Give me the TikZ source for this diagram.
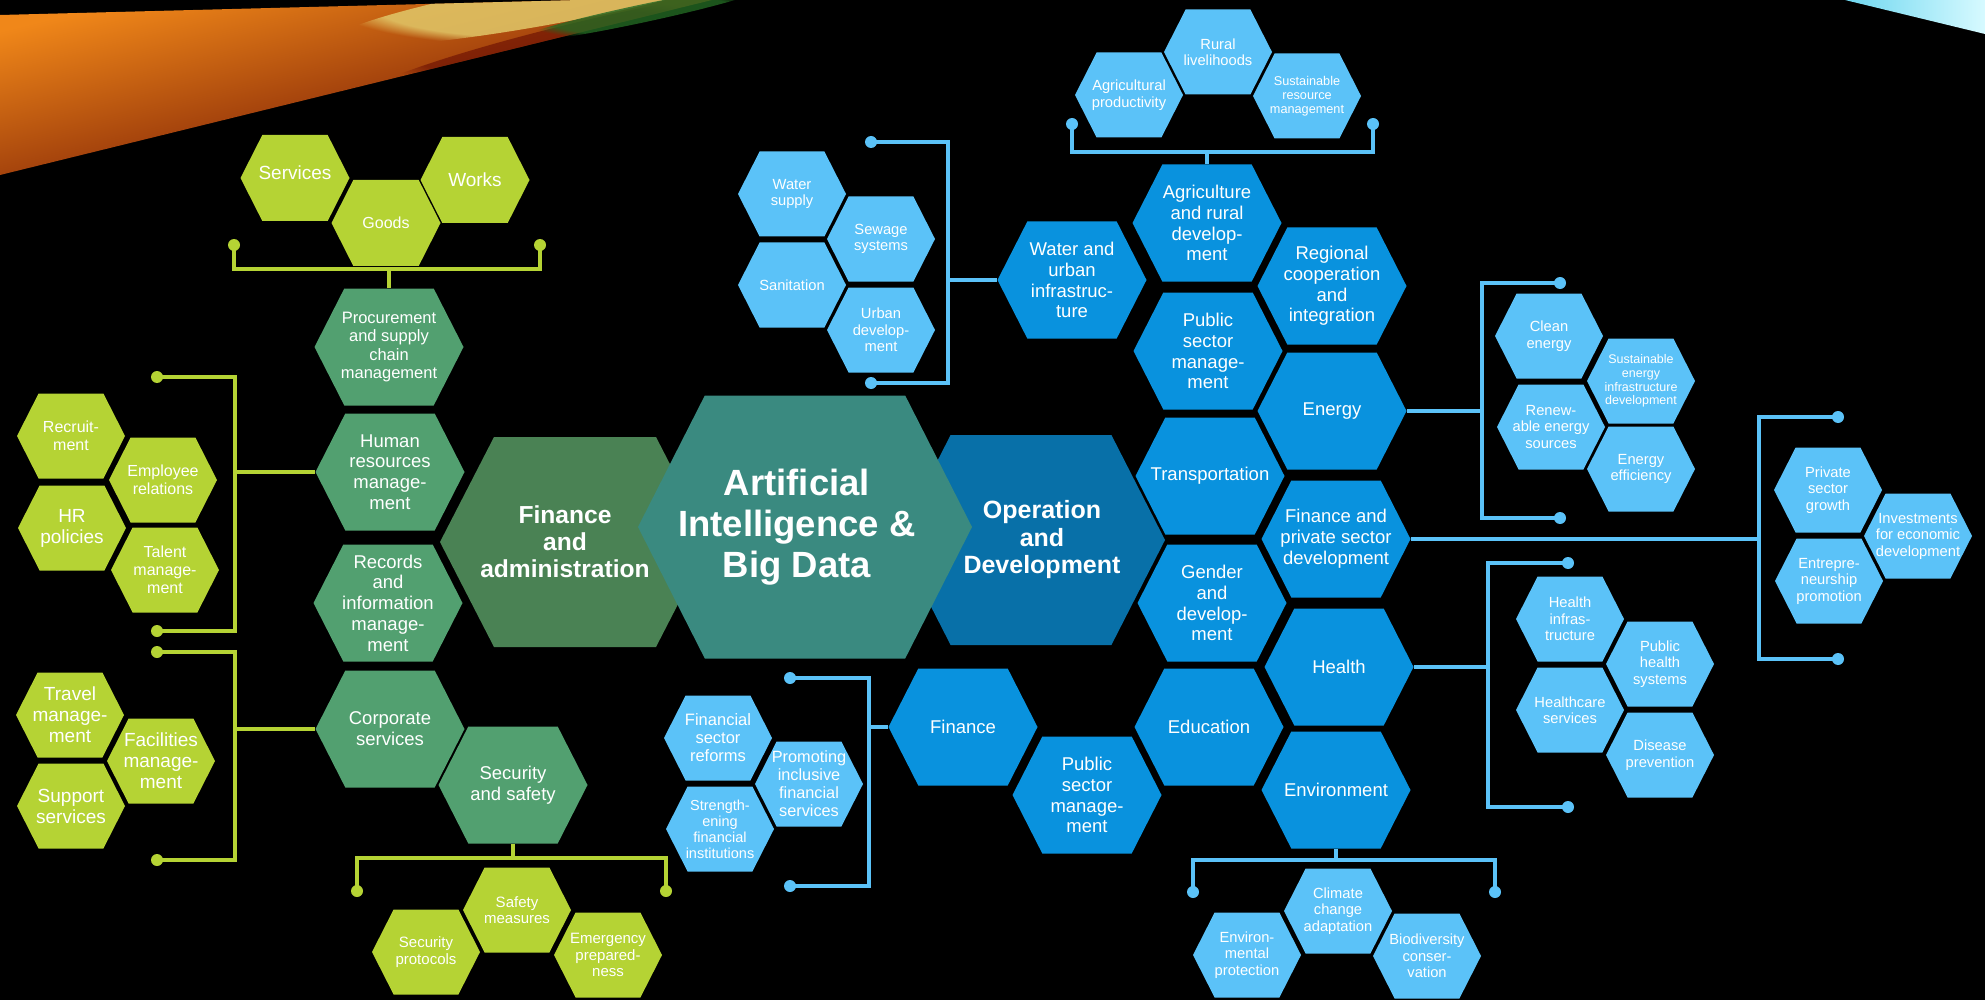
\documentclass[tikz,border=0pt]{standalone}
\usepackage{fontspec}
\setmainfont{Liberation Sans}
\usetikzlibrary{calc,fadings}

\definecolor{lgreen}{RGB}{181,211,52}
\definecolor{mgreen}{RGB}{82,160,112}
\definecolor{dgreen}{RGB}{74,130,84}
\definecolor{tealc}{RGB}{58,138,128}
\definecolor{dblue}{RGB}{8,112,168}
\definecolor{mblue}{RGB}{9,146,222}
\definecolor{lblue}{RGB}{91,194,248}
\definecolor{stOr}{RGB}{240,135,25}
\definecolor{stRed}{RGB}{205,65,10}
\definecolor{stDark}{RGB}{90,0,0}
\definecolor{stYel}{RGB}{225,200,105}
\definecolor{stGrn}{RGB}{35,105,35}
\definecolor{cyA}{RGB}{110,215,240}
\definecolor{cyB}{RGB}{215,250,255}

\newcommand\hexcol{black}
\tikzset{
  hx/.style={rectangle, inner sep=0pt, align=center, text=white,
    path picture={\fill[\hexcol]
      (path picture bounding box.west)
      -- ($(path picture bounding box.north west)!0.2!(path picture bounding box.north east)$)
      -- ($(path picture bounding box.north west)!0.8!(path picture bounding box.north east)$)
      -- (path picture bounding box.east)
      -- ($(path picture bounding box.south west)!0.8!(path picture bounding box.south east)$)
      -- ($(path picture bounding box.south west)!0.2!(path picture bounding box.south east)$)
      -- cycle;}},
  hc/.code={\def\hexcol{#1}},
  lbl/.style={text=white, align=center, inner sep=0pt},
  big/.style={hx, minimum width=149pt, minimum height=117pt, font=\fontsize{18.5}{20.8}\selectfont},
  sm/.style={hx, minimum width=108pt, minimum height=85pt, font=\fontsize{14.7}{16.5}\selectfont},
  gl/.style={draw=lgreen, line width=3.5pt},
  bl/.style={draw=lblue, line width=3.5pt},
  gdot/.style={circle, fill=lgreen, inner sep=0pt, minimum size=12pt},
  bdot/.style={circle, fill=lblue, inner sep=0pt, minimum size=12pt},
}

\begin{document}
\begin{tikzpicture}[x=1pt,y=-1pt]
\useasboundingbox (0,0) rectangle (1985,1000);
\fill[black] (0,0) rectangle (1985,1000);

% background streaks
\begin{scope}
  \clip (0,15) -- (580,0) -- (712,0) -- (0,175) -- cycle;
  \shade[top color=stOr, middle color=stRed, bottom color=stDark, shading angle=14]
    (0,0) -- (712,0) -- (0,175) -- cycle;
  \fill[stYel, path fading=circle with fuzzy edge 20 percent, fill opacity=0.85,
        rotate around={10:(540,4)}] (540,4) ellipse [x radius=210pt, y radius=22pt];
  \fill[stDark, path fading=circle with fuzzy edge 20 percent, fill opacity=0.5,
        rotate around={14:(560,45)}] (560,45) ellipse [x radius=200pt, y radius=18pt];
\end{scope}
\fill[stGrn, path fading=circle with fuzzy edge 20 percent, fill opacity=0.8,
      rotate around={12:(640,14)}] (640,14) ellipse [x radius=130pt, y radius=9pt];
\fill[black, opacity=0.6] (0,0) -- (300,0) -- (0,14) -- cycle;
\shade[left color=cyA, right color=cyB] (1845,0) -- (1985,0) -- (1985,34) -- cycle;

% ---------- green side ----------
\node[sm, hc=lgreen, minimum width=109pt, minimum height=86pt, font=\fontsize{19}{21}\selectfont] (services) at (295,178) {Services\\[-11pt]};
\node[sm, hc=lgreen, minimum width=109pt, minimum height=86pt, font=\fontsize{16}{18}\selectfont] (goods) at (386,223) {Goods};
\node[sm, hc=lgreen, minimum width=109pt, minimum height=86pt, font=\fontsize{19}{21}\selectfont] (works) at (475,180) {Works};

\node[big, hc=mgreen, font=\fontsize{16.5}{18.5}\selectfont] (proc) at (389,347) {Procurement\\and supply\\chain\\management};
\node[big, hc=mgreen] (hr) at (390,472) {Human\\resources\\manage-\\ment};
\node[big, hc=mgreen] (rec) at (388,603) {Records\\and\\information\\manage-\\ment};
\node[big, hc=mgreen] (corp) at (390,729) {Corporate\\services};
\node[big, hc=mgreen] (sec) at (513,785) {Security\\and safety};

\node[sm, hc=lgreen, font=\fontsize{16}{18}\selectfont] (recruit) at (71,436) {Recruit-\\ment};
\node[sm, hc=lgreen, font=\fontsize{16}{18}\selectfont] (employee) at (163,480) {Employee\\relations};
\node[sm, hc=lgreen, font=\fontsize{19}{21}\selectfont] (hrpol) at (72,528) {HR\\policies};
\node[sm, hc=lgreen, font=\fontsize{16}{18}\selectfont] (talent) at (165,570) {Talent\\manage-\\ment};
\node[sm, hc=lgreen, font=\fontsize{19}{21}\selectfont] (travel) at (70,715) {Travel\\manage-\\ment};
\node[sm, hc=lgreen, font=\fontsize{19}{21}\selectfont] (facil) at (161,761) {Facilities\\manage-\\ment};
\node[sm, hc=lgreen, font=\fontsize{19}{21}\selectfont] (support) at (71,806) {Support\\services};

\node[sm, hc=lgreen, font=\fontsize{15}{16.5}\selectfont] (secprot) at (426,952) {Security\\protocols};
\node[sm, hc=lgreen, font=\fontsize{15}{16.5}\selectfont] (safety) at (517,910) {Safety\\measures};
\node[sm, hc=lgreen, font=\fontsize{15}{16.5}\selectfont] (emerg) at (608,955) {Emergency\\prepared-\\ness};

% ---------- centre ----------
\node[hx, hc=dgreen, minimum width=270pt, minimum height=210pt,
      label={[lbl, font=\bfseries\fontsize{24.6}{27}\selectfont, xshift=-10pt]center:{Finance\\and\\administration}}] (finadm) at (575,542) {};
\node[hx, hc=dblue, minimum width=268pt, minimum height=210pt,
      label={[lbl, font=\bfseries\fontsize{25}{27.5}\selectfont, xshift=11pt]center:{Operation\\and\\Development}}] (opdev) at (1031,540) {};
\node[hx, hc=tealc, minimum width=334pt, minimum height=263pt,
      label={[lbl, font=\bfseries\fontsize{36.5}{41}\selectfont, xshift=-8pt]center:{Artificial\\Intelligence \&\\Big Data}}] (ai) at (805,527) {};

% ---------- blue side ----------
\node[big, hc=mblue] (water) at (1072,280) {Water and\\urban\\infrastruc-\\ture};
\node[big, hc=mblue] (agri) at (1207,223) {Agriculture\\and rural\\develop-\\ment};
\node[big, hc=mblue] (psmA) at (1208,351) {Public\\sector\\manage-\\ment};
\node[big, hc=mblue] (transp) at (1210,476) {Transportation};
\node[big, hc=mblue] (gender) at (1212,603) {Gender\\and\\develop-\\ment};
\node[big, hc=mblue] (educ) at (1209,727) {Education};
\node[big, hc=mblue] (region) at (1332,286) {Regional\\cooperation\\and\\integration};
\node[big, hc=mblue] (energy) at (1332,411) {Energy};
\node[big, hc=mblue] (finpriv) at (1336,539) {Finance and\\private sector\\development};
\node[big, hc=mblue] (health) at (1339,667) {Health};
\node[big, hc=mblue] (environ) at (1336,790) {Environment};
\node[big, hc=mblue] (finance) at (963,727) {Finance};
\node[big, hc=mblue] (psmB) at (1087,795) {Public\\sector\\manage-\\ment};

\node[sm, hc=lblue] (watsup) at (792,194) {Water\\supply};
\node[sm, hc=lblue] (sewage) at (881,239) {Sewage\\systems};
\node[sm, hc=lblue] (sanit) at (792,285) {Sanitation};
\node[sm, hc=lblue] (urban) at (881,330) {Urban\\develop-\\ment};

\node[sm, hc=lblue] (agriprod) at (1129,95) {Agricultural\\productivity};
\node[sm, hc=lblue] (rural) at (1218,52) {Rural\\livelihoods};
\node[sm, hc=lblue, font=\fontsize{12.7}{13.8}\selectfont] (sustres) at (1307,96) {Sustainable\\resource\\management};

\node[sm, hc=lblue] (clean) at (1549,336) {Clean\\energy};
\node[sm, hc=lblue, font=\fontsize{12.5}{13.7}\selectfont] (susten) at (1641,381) {Sustainable\\energy\\infrastructure\\development};
\node[sm, hc=lblue] (renew) at (1551,427) {Renew-\\able energy\\sources};
\node[sm, hc=lblue] (effic) at (1641,469) {Energy\\efficiency};

\node[sm, hc=lblue] (privgr) at (1828,490) {Private\\sector\\growth};
\node[sm, hc=lblue] (invest) at (1918,536) {Investments\\for economic\\development};
\node[sm, hc=lblue] (entre) at (1829,581) {Entrepre-\\neurship\\promotion};

\node[sm, hc=lblue] (hinfra) at (1570,619) {Health\\infras-\\tructure};
\node[sm, hc=lblue] (phealth) at (1660,664) {Public\\health\\systems};
\node[sm, hc=lblue] (hcare) at (1570,710) {Healthcare\\services};
\node[sm, hc=lblue] (disease) at (1660,755) {Disease\\prevention};

\node[sm, hc=lblue] (climate) at (1338,911) {Climate\\change\\adaptation};
\node[sm, hc=lblue] (envprot) at (1247,955) {Environ-\\mental\\protection};
\node[sm, hc=lblue] (biodiv) at (1427,956) {Biodiversity\\conser-\\vation};

\node[sm, hc=lblue, font=\fontsize{16.5}{18}\selectfont] (finref) at (718,738) {Financial\\sector\\reforms};
\node[sm, hc=lblue, font=\fontsize{16.3}{18}\selectfont] (promo) at (809,784) {Promoting\\inclusive\\financial\\services};
\node[sm, hc=lblue, font=\fontsize{14.5}{16}\selectfont] (strength) at (720,829) {Strength-\\ening\\financial\\institutions};

% ---------- green brackets ----------
\node[gdot] (gd1) at (234,245) {};
\node[gdot] (gd2) at (540,245) {};
\coordinate (gb1) at (389,269);
\draw[gl] (gd1.center) |- (gb1) -| (gd2.center);
\draw[gl] (proc.north) -- (gb1);

\node[gdot] (gd3) at (157,377) {};
\node[gdot] (gd4) at (157,631) {};
\coordinate (gv1) at (235,472);
\draw[gl] (gd3.center) -| (gv1) |- (gd4.center);
\draw[gl] (hr.west) -- (gv1);

\node[gdot] (gd5) at (157,652) {};
\node[gdot] (gd6) at (157,860) {};
\coordinate (gv2) at (235,729);
\draw[gl] (gd5.center) -| (gv2) |- (gd6.center);
\draw[gl] (corp.west) -- (gv2);

\node[gdot] (gd7) at (357,891) {};
\node[gdot] (gd8) at (666,891) {};
\coordinate (gb2) at (513,858);
\draw[gl] (gd7.center) |- (gb2) -| (gd8.center);
\draw[gl] (sec.south) -- (gb2);

% ---------- blue brackets ----------
\node[bdot] (bd1) at (871,142) {};
\node[bdot] (bd2) at (871,383) {};
\coordinate (bv1) at (948,280);
\draw[bl] (bd1.center) -| (bv1) |- (bd2.center);
\draw[bl] (water.west) -- (bv1);

\node[bdot] (bd3) at (1072,124) {};
\node[bdot] (bd4) at (1373,124) {};
\coordinate (bb1) at (1207,152);
\draw[bl] (bd3.center) |- (bb1) -| (bd4.center);
\draw[bl] (agri.north) -- (bb1);

\node[bdot] (bd5) at (1560,283) {};
\node[bdot] (bd6) at (1560,518) {};
\coordinate (bv2) at (1482,411);
\draw[bl] (bd5.center) -| (bv2) |- (bd6.center);
\draw[bl] (energy.east) -- (bv2);

\node[bdot] (bd7) at (1838,417) {};
\node[bdot] (bd8) at (1838,659) {};
\coordinate (bv3) at (1759,539);
\draw[bl] (bd7.center) -| (bv3) |- (bd8.center);
\draw[bl] (finpriv.east) -- (bv3);

\node[bdot] (bd9) at (1568,563) {};
\node[bdot] (bd10) at (1568,807) {};
\coordinate (bv4) at (1488,667);
\draw[bl] (bd9.center) -| (bv4) |- (bd10.center);
\draw[bl] (health.east) -- (bv4);

\node[bdot] (bd11) at (1193,892) {};
\node[bdot] (bd12) at (1495,892) {};
\coordinate (bb2) at (1336,860);
\draw[bl] (bd11.center) |- (bb2) -| (bd12.center);
\draw[bl] (environ.south) -- (bb2);

\node[bdot] (bd13) at (790,678) {};
\node[bdot] (bd14) at (790,886) {};
\coordinate (bv5) at (869,727);
\draw[bl] (bd13.center) -| (bv5) |- (bd14.center);
\draw[bl] (finance.west) -- (bv5);
\end{tikzpicture}
\end{document}
